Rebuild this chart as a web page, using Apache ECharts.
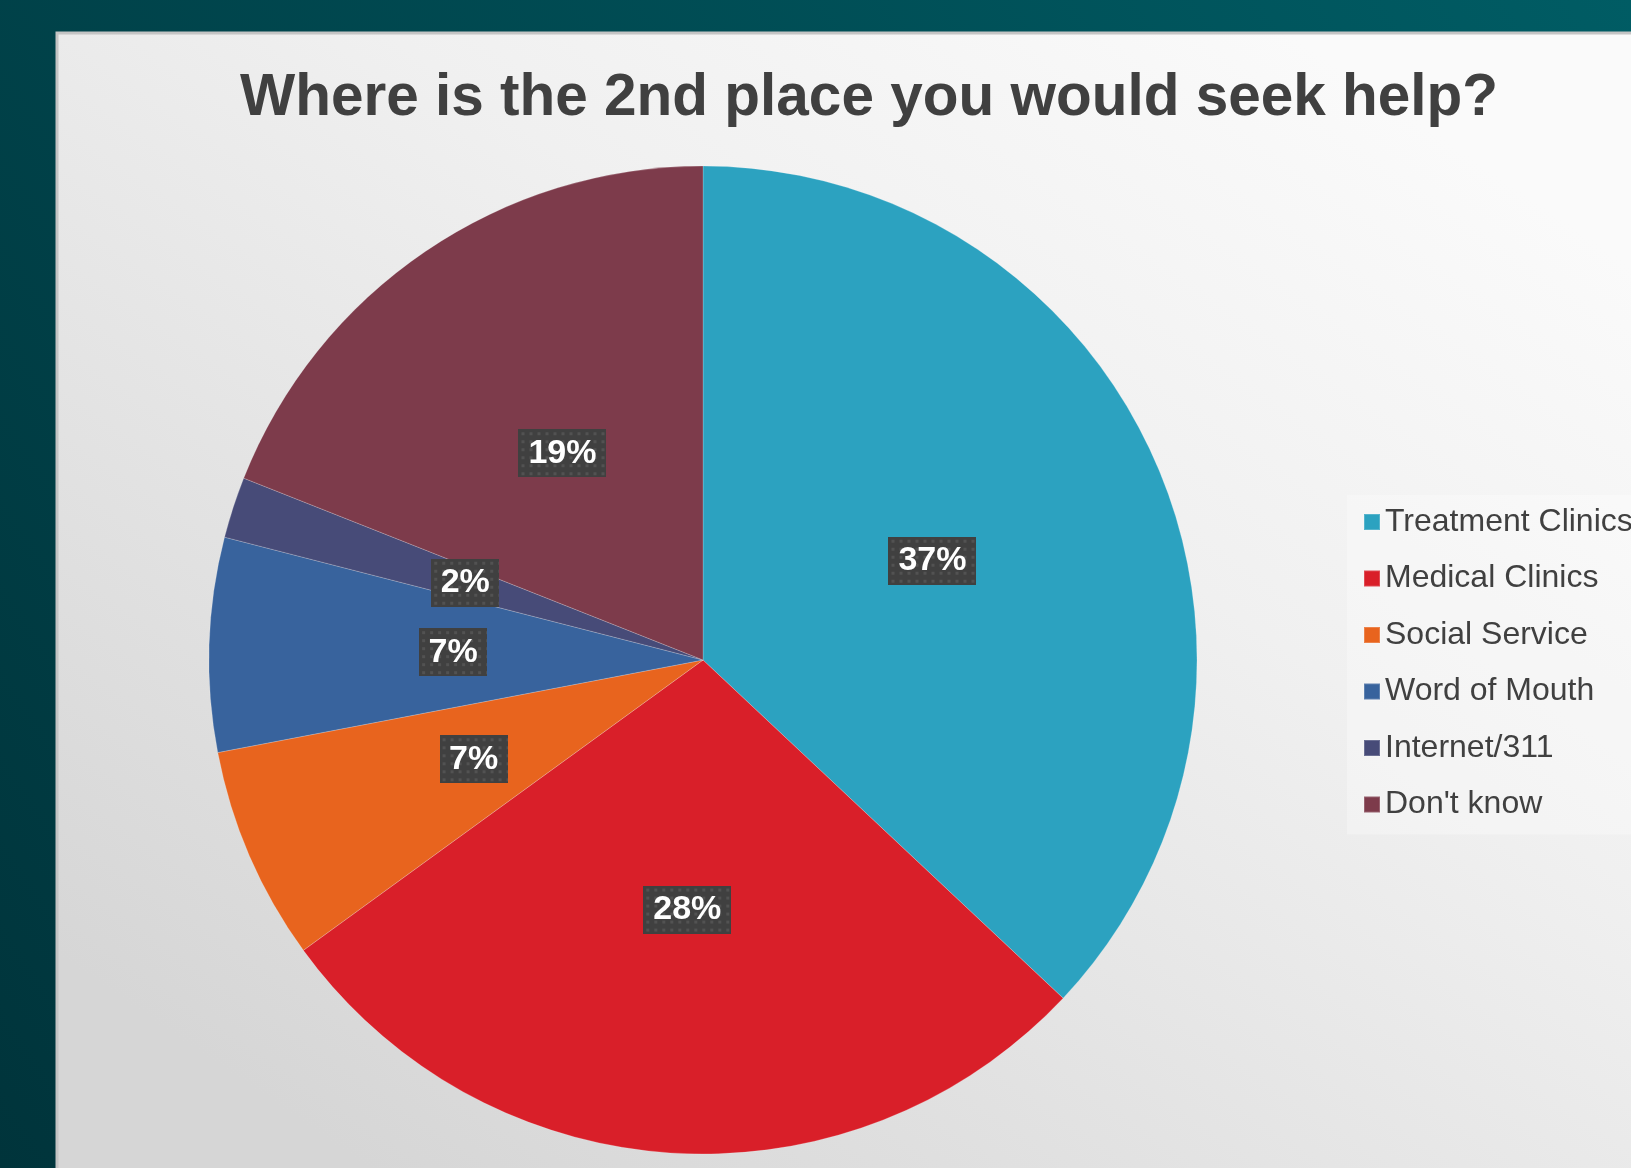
<!DOCTYPE html>
<html>
<head>
<meta charset="utf-8">
<title>Where is the 2nd place you would seek help?</title>
<script src="https://cdn.jsdelivr.net/npm/echarts@6/dist/echarts.min.js"></script>
<style>
  html, body { margin: 0; padding: 0; background: #004650; }
  #chart { width: 1631px; height: 1168px; }
</style>
</head>
<body>
<div id="chart"></div>
<script>
// Survey answers: second place respondents would go for help
const titleText = 'Where is the 2nd place you would seek help?';
const categories = ['Treatment Clinics', 'Medical Clinics', 'Social Service', 'Word of Mouth', 'Internet/311', "Don't know"];
const shares = [37, 28, 7, 7, 2, 19];
const sliceColors = ['#2ca2c0', '#d91f29', '#e8641e', '#38639d', '#474b78', '#7d3b4b'];

// Dark dotted tile used behind the percentage labels
function dottedTile(w, h) {
  const c = document.createElement('canvas');
  c.width = w; c.height = h;
  const g = c.getContext('2d');
  g.fillStyle = '#404040';
  g.fillRect(0, 0, w, h);
  g.fillStyle = '#525252';
  for (let y = 3; y < h; y += 8) {
    for (let x = 3; x < w; x += 8) {
      g.fillRect(x, y, 3, 3);
    }
  }
  return c;
}

const wideTile = dottedTile(88, 48);
const narrowTile = dottedTile(68, 48);

const labelBox = {
  fontFamily: '"Liberation Sans", Arial, sans-serif',
  fontWeight: 'bold',
  fontSize: 34,
  color: '#ffffff',
  height: 48,
  lineHeight: 48,
  align: 'center',
  shadowColor: 'rgba(0,0,0,0.6)',
  shadowBlur: 7,
  shadowOffsetX: 3,
  shadowOffsetY: 4
};

const chart = echarts.init(document.getElementById('chart'), null, { renderer: 'canvas' });

chart.setOption({
  animation: false,
  graphic: [
    {
      type: 'rect', z: -20, silent: true,
      shape: { x: 0, y: 0, width: 1631, height: 1168 },
      style: {
        fill: new echarts.graphic.LinearGradient(1, 0, 0, 1, [
          { offset: 0, color: '#005c64' },
          { offset: 1, color: '#00343b' }
        ])
      }
    },
    {
      type: 'rect', z: -19, silent: true,
      shape: { x: 57, y: 33, width: 1640, height: 1200 },
      style: {
        fill: new echarts.graphic.LinearGradient(0.75, 0, 0.25, 1, [
          { offset: 0, color: '#fafafa' },
          { offset: 0.35, color: '#f0f0f0' },
          { offset: 1, color: '#d6d6d6' }
        ]),
        stroke: '#c4c4c4',
        lineWidth: 3
      }
    }
  ],
  title: {
    text: titleText,
    left: 864,
    textAlign: 'center',
    top: 64,
    textStyle: {
      fontFamily: '"Liberation Sans", Arial, sans-serif',
      fontWeight: 'bold',
      fontSize: 58.5,
      color: '#404040'
    }
  },
  legend: {
    orient: 'vertical',
    left: 1347,
    top: 495,
    padding: [11, 60, 14, 16],
    backgroundColor: 'rgba(255,255,255,0.3)',
    itemWidth: 16,
    itemHeight: 16,
    itemGap: 24.5,
    icon: 'rect',
    data: categories,
    textStyle: {
      fontFamily: '"Liberation Sans", Arial, sans-serif',
      fontSize: 32,
      lineHeight: 32,
      color: '#404040'
    }
  },
  series: [{
    type: 'pie',
    center: [703, 660],
    radius: 494,
    startAngle: 90,
    clockwise: true,
    avoidLabelOverlap: false,
    itemStyle: {
      borderColor: 'rgba(255,255,255,0.2)',
      borderWidth: 1
    },
    label: {
      show: true,
      position: 'inside',
      formatter: function (p) {
        const txt = p.value + '%';
        return (txt.length > 2 ? '{w|' : '{n|') + txt + '}';
      },
      rich: {
        w: Object.assign({}, labelBox, { width: 88, backgroundColor: { image: wideTile } }),
        n: Object.assign({}, labelBox, { width: 68, backgroundColor: { image: narrowTile } })
      }
    },
    labelLine: { show: false },
    emphasis: { disabled: true },
    data: categories.map((name, i) => ({
      name: name,
      value: shares[i],
      itemStyle: { color: sliceColors[i] }
    }))
  }]
});
</script>
</body>
</html>
